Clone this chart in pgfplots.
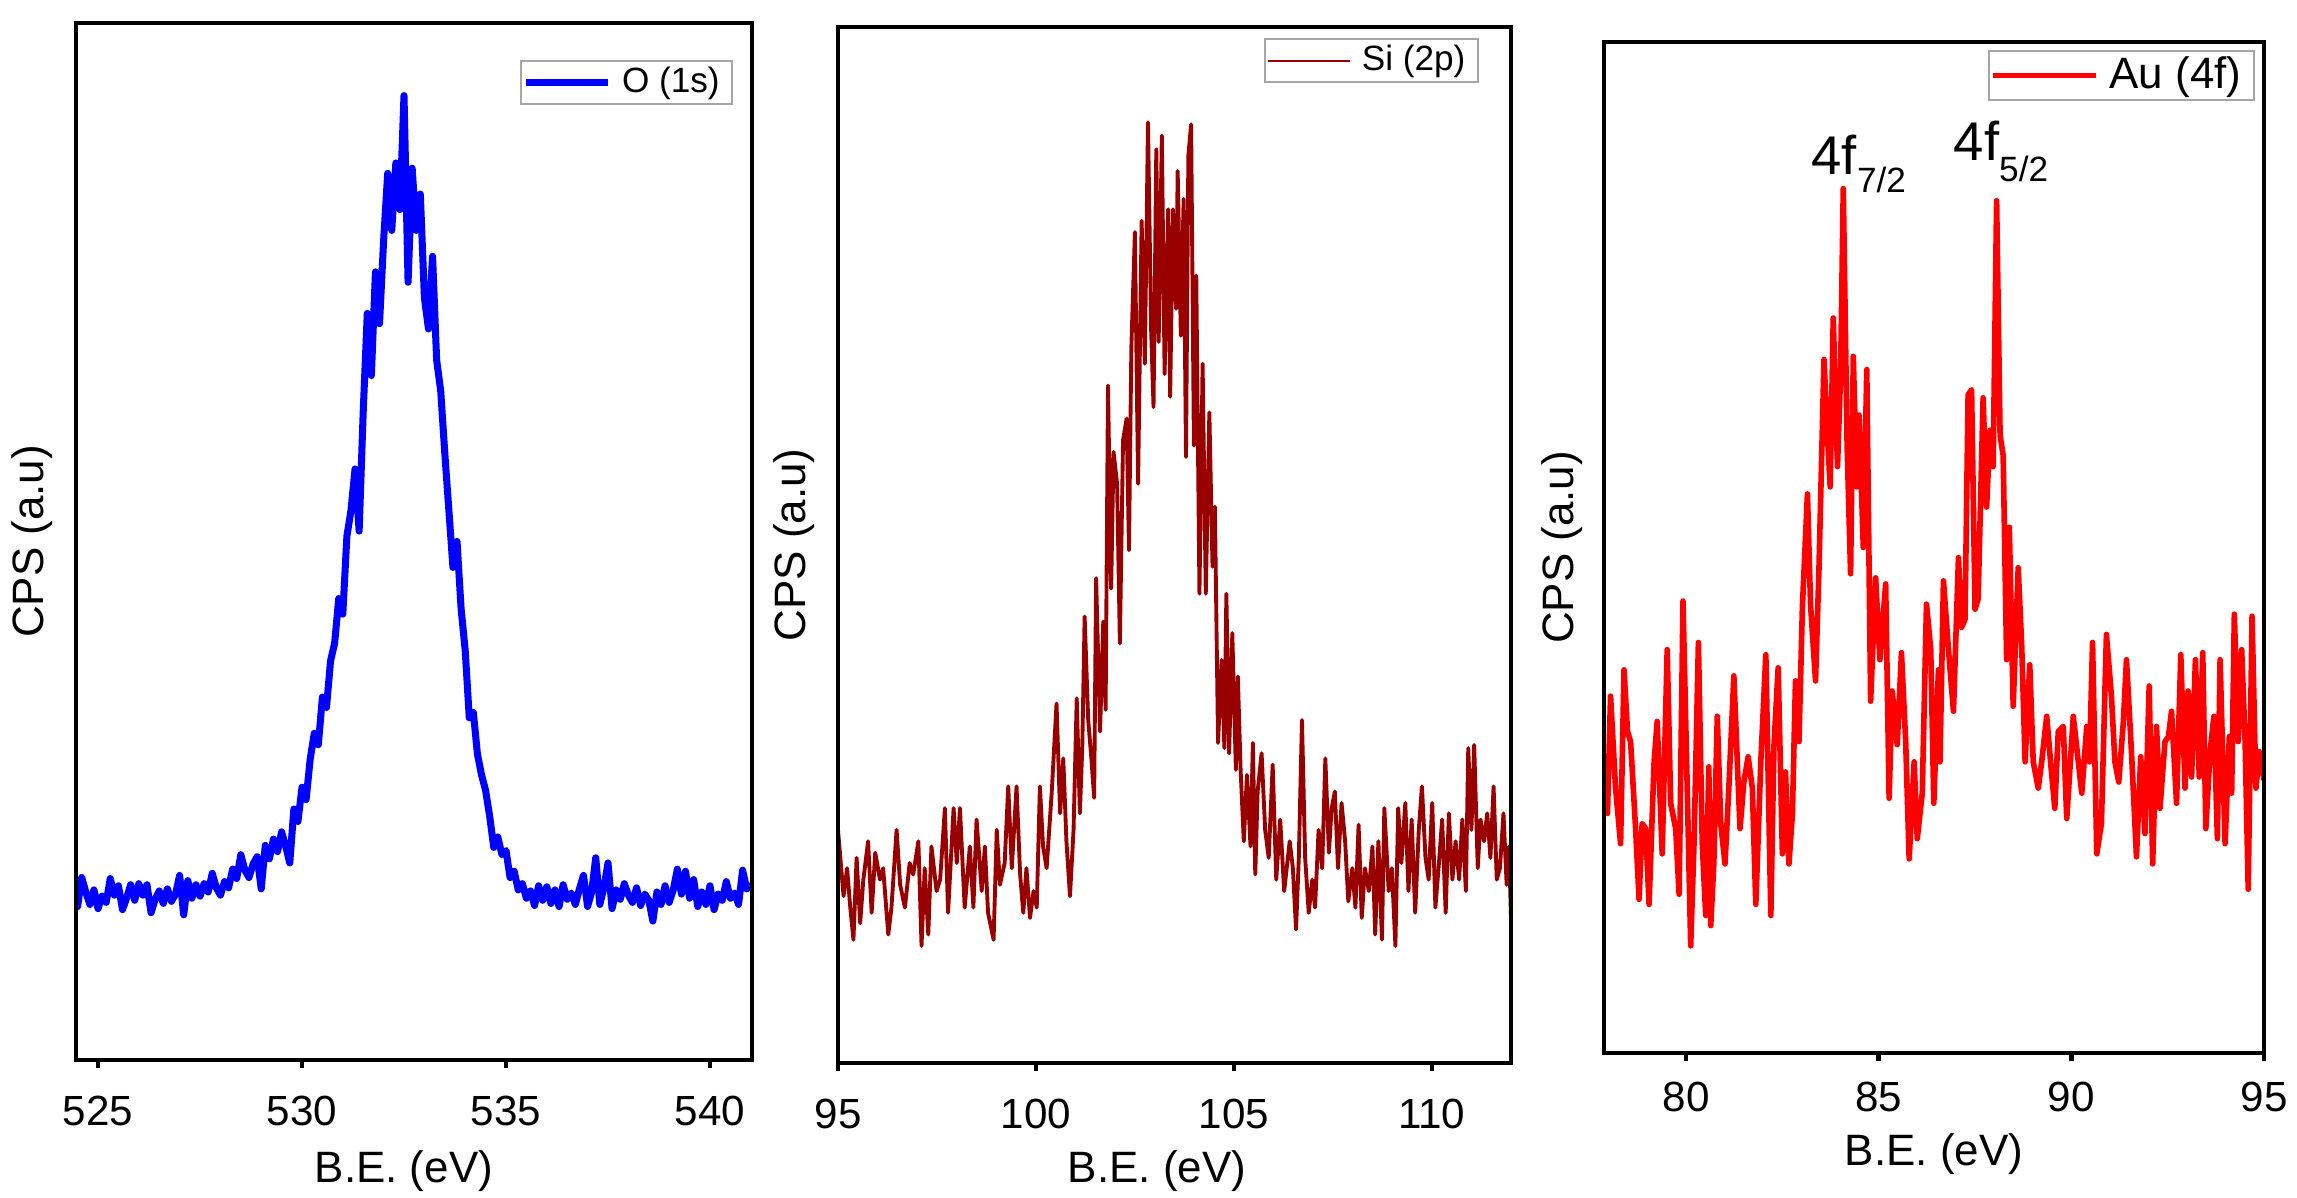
\documentclass[border=0pt]{standalone}
\usepackage{pgfplots}
\pgfplotsset{compat=1.18}
\usepackage{fontspec}
\setmainfont{Liberation Sans}
\definecolor{oblue}{RGB}{0,0,255}
\definecolor{sired}{RGB}{153,0,0}
\definecolor{aured}{RGB}{255,0,0}
\pgfplotsset{
  xps/.style={
    scale only axis, ymin=0, ymax=100, ytick=\empty,
    xtick pos=bottom, tick align=outside,
    major tick length=0.08cm,
    every tick/.style={black, line width=1.3pt},
    axis line style={line width=1.4pt},
    axis on top,
    /pgf/number format/assume math mode=true,
    ticklabel style={font=\fontsize{12}{14}\selectfont},
    every axis x label/.style={anchor=center, font=\fontsize{12.5}{15}\selectfont},
    every axis y label/.style={rotate=90, anchor=center, font=\fontsize{12.5}{15}\selectfont},
    legend style={anchor=north east, draw=gray!70, line width=0.6pt, inner sep=0.5pt, fill=white,
      nodes={inner xsep=3pt, inner ysep=1.2pt}},
    legend cell align=left,
  }
}
\begin{document}
\begin{tikzpicture}
\path[use as bounding box] (0,0) rectangle (22.97,11.98);
% ---------------- O 1s
\begin{axis}[xps, at={(0.76cm,1.38cm)}, width=6.76cm, height=10.37cm,
  xmin=524.46, xmax=541.03, xtick={525,530,535,540},
  xticklabel style={yshift=-4.5pt},
  xlabel={B.E. (eV)}, ylabel={CPS (a.u)},
  xlabel style={at={(axis description cs:0.485,-0.107)}},
  ylabel style={at={(axis description cs:-0.065,0.5)}},
  legend style={at={(0.972,0.964)}, font=\fontsize{10}{12}\selectfont},
  legend image code/.code={\draw[#1] (0cm,0cm) -- (0.82cm,0cm);}]
\addplot[oblue, line width=2pt, line join=round] coordinates {
(524.46,16.5) (524.5,14.8) (524.6,17.6) (524.7,16.2) (524.8,15.0) (524.9,16.4) (525.0,14.6) (525.1,15.8) (525.2,15.2) (525.3,17.5)
(525.4,15.9) (525.5,16.8) (525.6,14.5) (525.7,15.6) (525.8,16.9) (525.9,15.4) (526.0,17.0) (526.1,15.9) (526.2,16.9) (526.3,14.2)
(526.4,15.5) (526.5,16.3) (526.6,15.1) (526.7,16.5) (526.8,15.3) (526.9,16.0) (527.0,17.8) (527.1,14.0) (527.2,17.3) (527.3,15.6)
(527.4,16.9) (527.5,15.8) (527.6,17.0) (527.7,16.2) (527.8,18.0) (527.9,16.6) (528.0,15.9) (528.1,17.2) (528.2,16.6) (528.3,18.4)
(528.4,17.5) (528.5,19.8) (528.6,18.3) (528.7,17.6) (528.8,18.9) (528.9,19.6) (529.0,16.5) (529.1,20.7) (529.2,19.4) (529.3,21.3)
(529.4,20.1) (529.5,22.0) (529.6,20.6) (529.7,19.0) (529.8,24.2) (529.9,23.0) (530.0,26.3) (530.1,25.1) (530.2,29.0) (530.3,31.5)
(530.4,30.4) (530.5,35.0) (530.6,34.0) (530.7,38.5) (530.8,40.2) (530.9,44.5) (531.0,43.0) (531.1,50.5) (531.2,53.0) (531.3,57.0)
(531.4,51.0) (531.5,62.5) (531.6,72.0) (531.7,66.0) (531.8,76.0) (531.9,71.0) (532.0,79.0) (532.1,85.5) (532.2,80.0) (532.3,86.5)
(532.4,82.0) (532.5,93.0) (532.6,75.0) (532.7,86.0) (532.8,80.0) (532.9,83.5) (533.0,73.5) (533.1,70.5) (533.2,77.5) (533.3,67.5)
(533.4,64.5) (533.5,58.5) (533.6,53.0) (533.7,47.5) (533.8,50.0) (533.9,43.5) (534.0,39.5) (534.1,33.0) (534.2,33.5) (534.3,29.5)
(534.4,27.5) (534.5,26.0) (534.6,23.5) (534.7,20.5) (534.8,21.5) (534.9,19.8) (535.0,20.2) (535.1,17.6) (535.2,18.2) (535.3,16.4)
(535.4,17.0) (535.5,15.6) (535.6,16.3) (535.7,14.9) (535.8,16.8) (535.9,15.4) (536.0,16.7) (536.1,15.1) (536.2,16.4) (536.3,14.8)
(536.4,16.9) (536.5,15.5) (536.6,16.1) (536.7,15.0) (536.8,16.5) (536.9,17.8) (537.0,14.8) (537.1,16.2) (537.2,19.5) (537.3,15.0)
(537.4,16.6) (537.5,19.0) (537.6,14.6) (537.7,16.4) (537.8,15.5) (537.9,17.0) (538.0,15.9) (538.1,15.2) (538.2,16.6) (538.3,14.9)
(538.4,16.0) (538.5,15.4) (538.6,13.4) (538.7,16.2) (538.8,15.0) (538.9,16.8) (539.0,15.2) (539.1,16.4) (539.2,18.4) (539.3,16.0)
(539.4,18.2) (539.5,15.6) (539.6,17.4) (539.7,14.8) (539.8,16.2) (539.9,15.0) (540.0,16.8) (540.1,14.5) (540.2,16.0) (540.3,15.4)
(540.4,17.2) (540.5,15.6) (540.6,16.1) (540.7,15.0) (540.8,18.3) (540.9,16.5) (541.0,17.0)
};
\addlegendentry{O (1s)}
\end{axis}
% ---------------- Si 2p
\begin{axis}[xps, at={(8.38cm,1.35cm)}, width=6.73cm, height=10.36cm,
  xmin=95, xmax=112, xtick={95,100,105,110},
  xticklabel style={yshift=-4.5pt},
  xlabel={B.E. (eV)}, ylabel={CPS (a.u)},
  xlabel style={at={(axis description cs:0.474,-0.104)}},
  ylabel style={at={(axis description cs:-0.065,0.5)}},
  legend style={at={(0.952,0.989)}, font=\fontsize{10}{12}\selectfont},
  legend image code/.code={\draw[#1, line width=0.7pt] (0cm,0cm) -- (0.82cm,0cm);}]
\addplot[sired, line width=1.1pt, line join=round] coordinates {
(95.0,22.5) (95.14,16.1) (95.23,18.8) (95.31,15) (95.39,11.9) (95.47,19.8) (95.56,13.5) (95.64,17.7) (95.76,21.4) (95.85,14.5)
(95.94,20.3) (96.06,17.7) (96.14,18.8) (96.27,12.4) (96.35,15) (96.48,22.5) (96.57,17.2) (96.69,15) (96.81,19.3) (96.9,18.2)
(97.03,21.4) (97.11,11.3) (97.19,18.8) (97.28,12.4) (97.36,20.9) (97.49,16.6) (97.58,17.7) (97.7,24.6) (97.78,14.5) (97.92,24.6)
(98.0,19.3) (98.08,24.6) (98.2,15) (98.33,20.9) (98.42,15) (98.5,23.5) (98.63,16.6) (98.71,20.9) (98.79,14.5) (98.93,11.9)
(99.01,22.5) (99.09,17.2) (99.21,19.3) (99.3,26.7) (99.39,18.8) (99.51,26.7) (99.6,18.2) (99.68,14.5) (99.76,18.8) (99.85,14)
(99.94,16.6) (100.02,15) (100.1,26.7) (100.18,20.9) (100.27,18.8) (100.4,26.2) (100.52,34.7) (100.61,24.1) (100.69,29.4) (100.77,21.4)
(100.86,16.1) (100.95,22.5) (101.03,35.2) (101.11,24.1) (101.17,30.4) (101.23,43.1) (101.32,33.1) (101.4,29.4) (101.47,25.6) (101.52,46.8)
(101.62,32) (101.7,42.6) (101.76,34.1) (101.82,65.4) (101.9,45.8) (101.96,59) (102.05,55.9) (102.12,40.5) (102.2,60.1) (102.29,62.2)
(102.35,49.5) (102.41,69.1) (102.5,80.2) (102.58,55.9) (102.67,81.3) (102.75,67.5) (102.83,90.8) (102.91,70.7) (102.97,63.3) (103.04,88.2)
(103.1,69.6) (103.18,89.5) (103.25,66.5) (103.34,82.4) (103.39,64.3) (103.46,82.4) (103.54,72.8) (103.58,86.1) (103.66,70.2) (103.73,83.4)
(103.79,58.5) (103.85,87.6) (103.92,90.6) (103.99,59.6) (104.05,76) (104.13,45.3) (104.21,67.5) (104.29,45.3) (104.38,62.8) (104.46,47.9)
(104.52,53.7) (104.6,30.9) (104.69,38.9) (104.76,30.4) (104.81,45.3) (104.88,29.9) (104.96,41.5) (105.05,28.3) (105.1,37.3) (105.17,28.3)
(105.25,21.4) (105.33,27.8) (105.42,20.9) (105.48,30.9) (105.54,18.2) (105.6,26.2) (105.7,29.9) (105.79,22.5) (105.88,19.8) (105.98,28.8)
(106.07,17.7) (106.17,23.5) (106.27,16.6) (106.41,21.4) (106.49,18.8) (106.57,12.9) (106.64,19.8) (106.72,33.1) (106.8,19.8) (106.89,14.5)
(106.98,17.7) (107.05,15) (107.14,22.5) (107.23,18.8) (107.31,29.4) (107.4,20.3) (107.47,24.6) (107.55,26.2) (107.63,18.8) (107.72,25.1)
(107.81,21.4) (107.89,15.6) (107.99,18.8) (108.07,15) (108.15,23) (108.23,14) (108.31,18.8) (108.41,16.6) (108.5,20.9) (108.57,12.4)
(108.65,21.4) (108.74,11.9) (108.8,24.6) (108.91,16.6) (108.99,18.8) (109.08,11.3) (109.15,24.6) (109.23,19.3) (109.33,25.1) (109.41,16.6)
(109.49,23.5) (109.58,14.5) (109.67,22.5) (109.75,26.7) (109.84,19.8) (109.92,17.7) (110.01,25.1) (110.09,15) (110.18,19.3) (110.26,23.5)
(110.35,14.5) (110.43,24.1) (110.52,17.7) (110.6,21.4) (110.69,17.7) (110.77,23.5) (110.86,16.6) (110.92,30.4) (111.0,22.5) (111.07,30.7)
(111.16,18.8) (111.23,23.5) (111.32,21.4) (111.4,24.1) (111.48,19.8) (111.56,26.7) (111.64,17.7) (111.72,18.8) (111.81,24.1) (111.89,17.2)
(111.95,20.9) (112.0,14)
};
\addlegendentry{Si (2p)}
\end{axis}
% ---------------- Au 4f
\begin{axis}[xps, at={(16.04cm,1.45cm)}, width=6.60cm, height=10.11cm,
  xmin=77.87, xmax=95, xtick={80,85,90,95},
  xticklabel style={yshift=-2.5pt},
  xlabel={B.E. (eV)}, ylabel={CPS (a.u)},
  xlabel style={at={(axis description cs:0.5,-0.100)}},
  ylabel style={at={(axis description cs:-0.064,0.5)}},
  legend style={at={(0.986,0.992)}, font=\fontsize{12.5}{15}\selectfont},
  legend image code/.code={\draw[#1] (0cm,0cm) -- (1.03cm,0cm);}]
\addplot[aured, line width=1.6pt, line join=round] coordinates {
(77.87,27) (77.96,23.7) (78.04,35.3) (78.17,26.2) (78.30,20.7) (78.39,37.9) (78.48,31.8) (78.56,30.8) (78.69,22.2) (78.78,15.2)
(78.86,22.7) (78.95,22.2) (79.04,14.7) (79.17,28.8) (79.25,32.8) (79.38,19.7) (79.51,39.9) (79.60,24.7) (79.73,22.2) (79.82,15.7)
(79.92,44.7) (80.03,26.2) (80.12,10.6) (80.21,21.2) (80.32,40.6) (80.42,20.7) (80.51,13.6) (80.59,28.3) (80.64,12.6) (80.72,18.7)
(80.81,33.3) (80.90,22.7) (81.01,18.7) (81.11,26.2) (81.24,37.3) (81.33,28.8) (81.40,22.2) (81.50,26.8) (81.61,29.3) (81.72,26.2)
(81.81,14.7) (81.94,28.8) (82.07,39.4) (82.20,13.6) (82.28,30.3) (82.39,38.1) (82.50,19.7) (82.58,27.8) (82.67,18.7) (82.76,23.7)
(82.84,36.8) (82.93,30.8) (83.02,44.2) (83.15,55.3) (83.23,44.4) (83.36,36.8) (83.45,48.0) (83.58,68.6) (83.67,61.1) (83.74,56.0)
(83.82,72.7) (83.93,58.0) (84.01,67.1) (84.08,85.5) (84.18,60.1) (84.27,47.4) (84.34,68.9) (84.43,56.0) (84.49,63.1) (84.60,50.0)
(84.69,67.6) (84.79,34.8) (84.92,47.0) (85.03,38.9) (85.18,46.4) (85.27,25.2) (85.35,35.8) (85.48,30.5) (85.59,39.6) (85.70,30.8)
(85.79,19.2) (85.92,28.8) (86.00,21.2) (86.13,25.7) (86.24,44.4) (86.35,39.9) (86.43,24.7) (86.55,37.9) (86.59,28.8) (86.68,46.7)
(86.81,39.9) (86.94,33.8) (87.07,49.0) (87.15,42.1) (87.24,42.9) (87.32,65.1) (87.41,65.6) (87.50,43.9) (87.58,44.9) (87.71,64.8)
(87.80,54.0) (87.89,61.6) (87.97,58.0) (88.06,84.3) (88.15,61.1) (88.23,59.1) (88.32,38.9) (88.39,52.0) (88.49,34.3) (88.62,48.0)
(88.71,40.4) (88.80,28.8) (88.92,38.4) (89.01,28.8) (89.14,26.2) (89.23,28.8) (89.36,33.3) (89.46,28.8) (89.57,24.2) (89.66,31.8)
(89.79,32.3) (89.88,23.2) (90.05,33.3) (90.18,28.8) (90.27,25.7) (90.40,32.3) (90.47,28.8) (90.55,40.6) (90.66,19.7) (90.78,22.7)
(90.91,41.4) (91.04,35.3) (91.13,28.8) (91.23,26.8) (91.35,32.8) (91.43,38.9) (91.56,29.8) (91.69,19.4) (91.80,29.3) (91.91,21.7)
(92.02,36.3) (92.11,18.7) (92.21,32.3) (92.30,24.2) (92.43,30.8) (92.52,31.3) (92.60,33.8) (92.73,24.7) (92.84,39.4) (92.95,26.2)
(93.03,35.8) (93.12,27.3) (93.22,38.9) (93.32,27.3) (93.41,39.6) (93.49,22.2) (93.60,29.8) (93.70,33.3) (93.79,21.2) (93.86,38.9)
(93.99,20.7) (94.10,31.3) (94.16,25.7) (94.23,43.4) (94.33,30.8) (94.42,39.9) (94.51,30.8) (94.59,16.2) (94.69,43.2) (94.79,26.2)
(94.88,29.8) (95.0,27.0)
};
\addlegendentry{Au (4f)}
\node[anchor=base west, inner sep=0pt] at (axis cs:83.24,86.9)
  {\fontsize{15.5}{18}\selectfont 4f\raisebox{-5pt}{\fontsize{10}{12}\selectfont 7/2}};
\node[anchor=base west, inner sep=0pt] at (axis cs:86.93,88.3)
  {\fontsize{15.5}{18}\selectfont 4f\raisebox{-6pt}{\fontsize{10}{12}\selectfont 5/2}};
\end{axis}
\end{tikzpicture}
\end{document}
